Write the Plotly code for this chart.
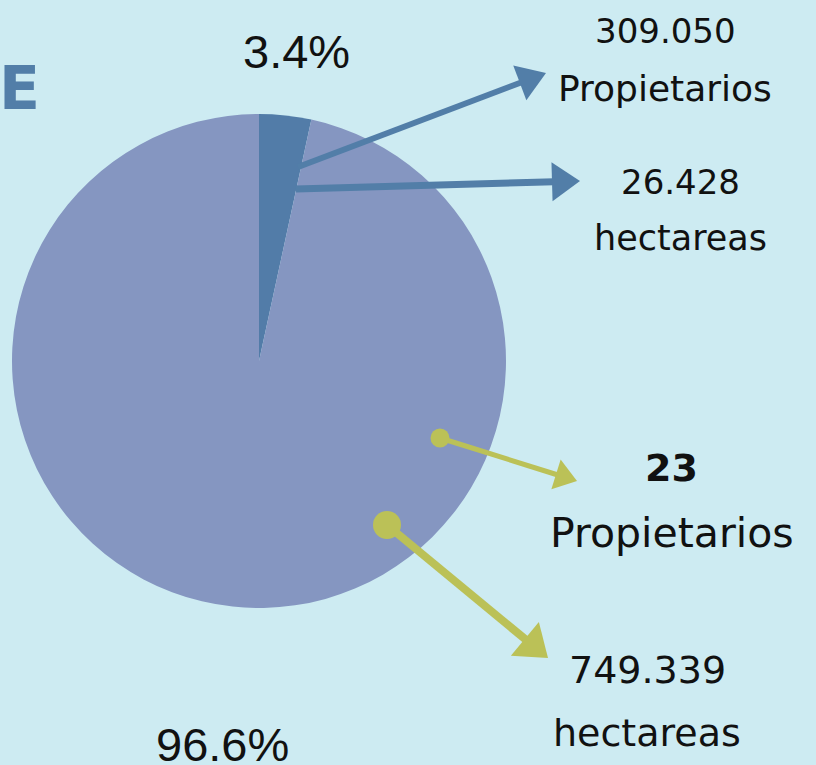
import numpy as np
import plotly.graph_objects as go

# ---- data ----
slice_labels = ["Pequeños propietarios", "Grandes propietarios"]
slice_values = [3.4, 96.6]
slice_colors = ["#527ca8", "#8596c1"]
pct_labels = ["3.4%", "96.6%"]
small_owners = ["309.050", "Propietarios"]
small_area = ["26.428", "hectareas"]
large_owners = ["<b>23</b>", "Propietarios"]
large_area = ["749.339", "hectareas"]
panel_letter = "E"

BG = "#cdebf2"
BLUE = "#527ea8"
GREEN = "#bbc157"
W, H = 816, 765

fig = go.Figure()
fig.add_trace(go.Pie(
    labels=slice_labels, values=slice_values, sort=False,
    direction="clockwise", rotation=0,
    marker=dict(colors=slice_colors, line=dict(width=0)),
    textinfo="none", hoverinfo="label+percent", showlegend=False,
    domain=dict(x=[12 / W, 506 / W], y=[1 - 608 / H, 1 - 114 / H]),
))

shapes = []

def arrow(start, tip, lw, head_len, head_w, color, dot_r=None):
    s = np.array(start, float)
    t = np.array(tip, float)
    d = (t - s) / np.linalg.norm(t - s)
    n = np.array([-d[1], d[0]])
    base = t - d * head_len
    shapes.append(dict(type="line", xref="x", yref="y",
                       x0=s[0], y0=s[1], x1=base[0] + d[0] * 2, y1=base[1] + d[1] * 2,
                       line=dict(color=color, width=lw)))
    p1 = base + n * head_w / 2
    p2 = base - n * head_w / 2
    path = f"M{t[0]},{t[1]} L{p1[0]},{p1[1]} L{p2[0]},{p2[1]} Z"
    shapes.append(dict(type="path", xref="x", yref="y", path=path,
                       fillcolor=color, line=dict(width=0)))
    if dot_r:
        shapes.append(dict(type="circle", xref="x", yref="y",
                           x0=s[0] - dot_r, x1=s[0] + dot_r,
                           y0=s[1] - dot_r, y1=s[1] + dot_r,
                           fillcolor=color, line=dict(width=0)))

arrow((298, 167), (546, 73), 6, 28, 37, BLUE)
arrow((296, 189), (580, 181), 7, 28, 39, BLUE)
arrow((440, 438), (577, 481), 5, 22, 31, GREEN, dot_r=9.5)
arrow((387, 525), (548, 658), 8, 30, 44, GREEN, dot_r=14)

TXT = "DejaVu Sans"
PCT = "Liberation Sans, Arial"
INK = "#111111"

def txt(x, y, text, size, family=TXT):
    return dict(x=x, y=y, text=text, font=dict(family=family, size=size, color=INK),
                xref="x", yref="y", showarrow=False, xanchor="center", yanchor="middle")

ann = [
    txt(296, 51, pct_labels[0], 47, PCT),
    txt(222, 744, pct_labels[1], 47, PCT),
    txt(665, 31, small_owners[0], 34),
    txt(665, 88, small_owners[1], 36),
    txt(680, 182, small_area[0], 34),
    txt(680, 238, small_area[1], 35),
    txt(671, 468, large_owners[0], 38),
    txt(672, 533, large_owners[1], 41),
    txt(647, 670, large_area[0], 38),
    txt(647, 733, large_area[1], 38),
    dict(x=0, y=88, xref="paper", yref="y", xanchor="left", yanchor="middle",
         xshift=-3, showarrow=False, text=f"<b>{panel_letter}</b>",
         font=dict(family="DejaVu Sans", size=60, color=BLUE)),
]

fig.update_layout(
    width=W, height=H, margin=dict(l=0, r=0, t=0, b=0),
    paper_bgcolor=BG, plot_bgcolor="rgba(0,0,0,0)",
    xaxis=dict(range=[0, W], visible=False, domain=[0, 1], fixedrange=True),
    yaxis=dict(range=[H, 0], visible=False, domain=[0, 1], fixedrange=True),
    shapes=shapes, annotations=ann,
)

fig.write_html("out.html", config={"displayModeBar": False},
               post_script="document.body.style.margin='0';")
